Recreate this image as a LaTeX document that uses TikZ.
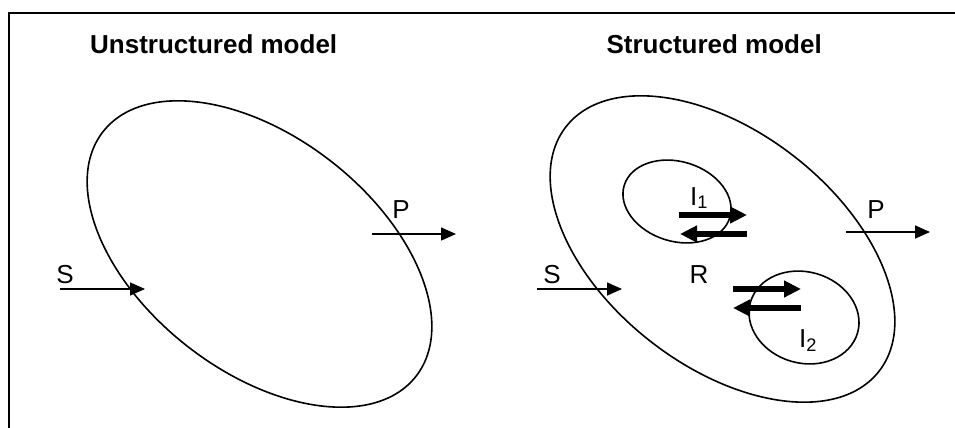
\documentclass[tikz,border=0pt]{standalone}
\usepackage{fontspec}
\setmainfont{Liberation Sans}
\usetikzlibrary{arrows.meta, positioning}

\begin{document}
\begin{tikzpicture}[
		x=1pt, y=-1pt,
		every node/.style={font=\fontsize{26}{30}\selectfont, inner sep=0pt},
		title/.style={font=\bfseries\fontsize{26}{30}\selectfont},
		frame/.style={line width=2pt},
		cell/.style={draw, line width=1.6pt},
		flow/.style={-{Triangle[length=15pt,width=13pt]}, line width=1.6pt},
		react/.style={-{Triangle[length=17pt,width=16pt]}, line width=6pt}
		]
		\useasboundingbox (0,0) rectangle (955,428);
		
		% --- Frame (top and left edge only) ---
		\draw[frame] (9,428) |- (955,13);
		
		% --- Titles ---
		\node[title, anchor=base west] (tunstr) at (90,53) {Unstructured model};
		\node[title, anchor=base east] (tstr) at (822,53) {Structured model};
		
		% --- Unstructured cell ---
		\draw[cell] (259.5,254) ellipse [x radius=198.6pt, y radius=117.1pt, rotate=-38];
		\coordinate (sL0) at (60,289);
		\coordinate (sL1) at (145,289);
		\coordinate (pL0) at (372,234);
		\coordinate (pL1) at (456,234);
		\draw[flow] (sL0) -- (sL1);
		\draw[flow] (pL0) -- (pL1);
		\node[anchor=base] (sLlab) at (65,283) {S};
		\node[anchor=base] (pLlab) at (401,218) {P};
		
		% --- Structured cell with two compartments ---
		\draw[cell] (722.5,249) ellipse [x radius=198.6pt, y radius=117.1pt, rotate=-38];
		\draw[cell] (677,201.5) ellipse [x radius=55.2pt, y radius=39.9pt, rotate=-17];
		\draw[cell] (804,317.5) ellipse [x radius=55.7pt, y radius=45.6pt, rotate=-16];
		\coordinate (sR0) at (537,289);
		\coordinate (sR1) at (622,289);
		\coordinate (pR0) at (846,232);
		\coordinate (pR1) at (930,232);
		\draw[flow] (sR0) -- (sR1);
		\draw[flow] (pR0) -- (pR1);
		\node[anchor=base] (sRlab) at (552,283) {S};
		\node[anchor=base] (pRlab) at (876,218) {P};
		\node[anchor=base] (rlab) at (699,283) {R};
		
		% --- Exchange with compartments ---
		\coordinate (a1) at (679,215);
		\coordinate (b1) at (747,215);
		\coordinate (c1) at (747,234);
		\coordinate (d1) at (680,234);
		\draw[react] (a1) -- (b1);
		\draw[react] (c1) -- (d1);
		\coordinate (a2) at (733,289);
		\coordinate (b2) at (801,289);
		\coordinate (c2) at (801,308);
		\coordinate (d2) at (733,308);
		\draw[react] (a2) -- (b2);
		\draw[react] (c2) -- (d2);
		\node[anchor=base west] (i1lab) at (690,205) {I\textsubscript{1}};
		\node[anchor=base west] (i2lab) at (799,347) {I\textsubscript{2}};
	\end{tikzpicture}
\end{document}
